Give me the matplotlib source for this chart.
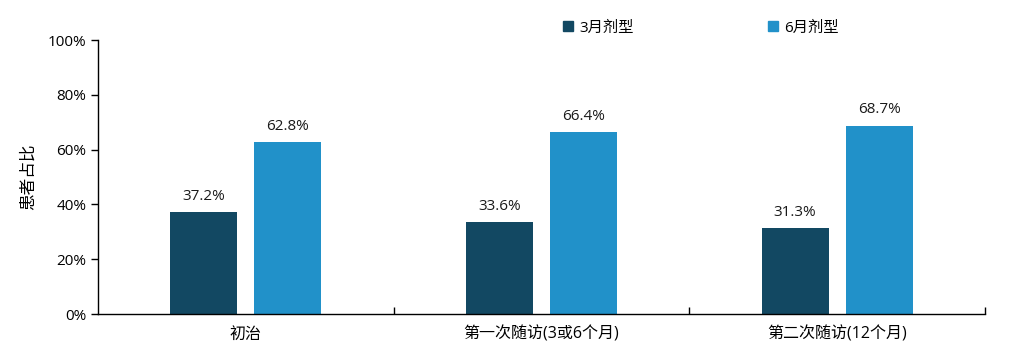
import numpy as np
import matplotlib
matplotlib.use('Agg')
import matplotlib.pyplot as plt
from matplotlib.patches import Patch
from matplotlib.ticker import FixedLocator, PercentFormatter

plt.rcParams['font.family'] = ['Open Sans', 'Noto Sans CJK SC', 'DejaVu Sans']

categories = ['初治', '第一次随访(3或6个月)', '第二次随访(12个月)']
series_names = ['3月剂型', '6月剂型']
values_3m = [37.2, 33.6, 31.3]
values_6m = [62.8, 66.4, 68.7]

colors = ['#124862', '#2191c9']

fig = plt.figure(figsize=(10.11, 3.61), dpi=100)
ax = fig.add_axes([98 / 1011, 1 - 314 / 361, (985 - 98) / 1011, (314 - 40) / 361])

x = np.arange(len(categories))
width = 0.227
offset = 0.142
for vals, dx, color in [(values_3m, -offset, colors[0]), (values_6m, offset, colors[1])]:
    bars = ax.bar(x + dx, vals, width=width, color=color)
    for b, v in zip(bars, vals):
        ax.annotate(f'{v:.1f}%', (b.get_x() + b.get_width() / 2, v),
                    xytext=(0, 6), textcoords='offset points',
                    ha='center', va='bottom', fontsize=11, color='#1a1a1a')

ax.set_xlim(-0.5, len(categories) - 0.5)
ax.set_ylim(0, 100)
ax.set_yticks(np.arange(0, 101, 20))
ax.yaxis.set_major_formatter(PercentFormatter(decimals=0))
ax.tick_params(axis='y', direction='out', length=5, labelsize=11, width=1, colors='black')

# category labels centred, boundary ticks pointing inward
ax.set_xticks(x)
ax.set_xticklabels(categories, fontsize=11.5)
ax.tick_params(axis='x', which='major', length=0, pad=9)
ax.xaxis.set_minor_locator(FixedLocator(list(x + 0.5)))
ax.tick_params(axis='x', which='minor', direction='in', length=5, width=1)

for s in ['top', 'right']:
    ax.spines[s].set_visible(False)
for s in ['left', 'bottom']:
    ax.spines[s].set_linewidth(1)

ax.set_ylabel('患者占比', fontsize=12, labelpad=8)

handles = [Patch(color=c) for c in colors]
fig.legend(handles, series_names, loc='center', bbox_to_anchor=(701 / 1011, 1 - 28 / 361),
           ncol=2, frameon=False, fontsize=11, handlelength=0.65, handleheight=0.65,
           handletextpad=0.4, columnspacing=8.8)

fig.savefig('out.png', dpi=100)
